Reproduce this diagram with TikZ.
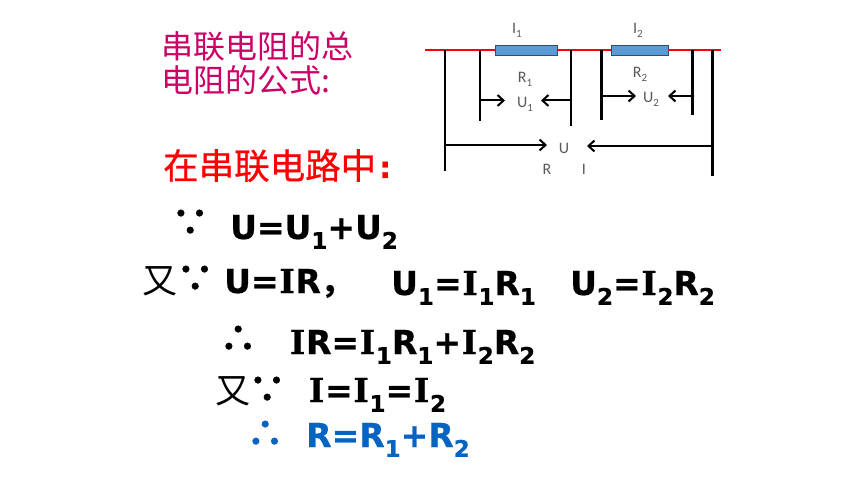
\documentclass[tikz,border=0pt]{standalone}
\usepackage{fontspec}
\setmainfont[BoldFeatures={FakeBold=0.6}]{DejaVu Sans}
\newfontfamily\cjk{Noto Sans CJK SC}
\newfontfamily\cjkmed[FakeBold=0.7]{Noto Sans CJK SC}
\newfontfamily\cjkdots[FakeBold=1.2]{Noto Sans CJK SC Bold}
\newfontfamily\serifI[FakeBold=0.6]{DejaVu Serif}
\newfontfamily\lab{Carlito}
\usetikzlibrary{arrows.meta}
\definecolor{resblue}{HTML}{5B9BD5}
\definecolor{resedge}{HTML}{2F4F6F}
\definecolor{titlepink}{HTML}{CC0066}
\definecolor{resultblue}{HTML}{0563C1}
\definecolor{labgray}{HTML}{595959}
\newcommand{\sbs}[1]{\raisebox{-0.3em}{\fontsize{23}{23}\selectfont #1}}
\newcommand{\lsb}[1]{\raisebox{-0.25em}{\fontsize{11}{11}\selectfont #1}}
\newcommand{\II}{{\serifI\kern0.7pt I\kern0.7pt}}
\tikzset{
    resistor/.style={draw=resedge, fill=resblue, line width=0.8pt, inner sep=0pt, minimum height=10pt},
    wire/.style={line width=1.8pt, red},
    probe/.style={line width=2.2pt},
    probethick/.style={line width=3pt},
    volt/.style={line width=2pt, -{Straight Barb[length=6pt,width=11pt]}},
    lbl/.style={font=\lab\fontsize{16}{16}\selectfont, text=labgray, inner sep=0pt},
    title/.style={font=\cjk\fontsize{32}{36}\selectfont, text=titlepink, anchor=base west, inner sep=0pt},
    eqn/.style={font=\bfseries\fontsize{33}{33}\selectfont, anchor=base west, inner sep=0pt},
    dots/.style={font=\cjkdots\fontsize{38}{38}\selectfont, anchor=base west, inner sep=0pt},
    cjkeqn/.style={font=\cjk\fontsize{35}{35}\selectfont, anchor=base west, inner sep=0pt}
}
\begin{document}
\begin{tikzpicture}[x=1pt, y=-1pt]
    \useasboundingbox (0,0) rectangle (860,484);

    % Title text
    \node[title] (titleA) at (161,59) {串联电阻的总};
    \node[title] (titleB) at (161,93) {电阻的公式:};
    \node[title, font=\cjkmed\fontsize{35.5}{36}\selectfont, text=red] (inseries) at (163,179) {在串联电路中};
    \node[title, font=\bfseries\fontsize{30}{30}\selectfont, text=red] (colon) at (379,178) {:};

    % Equations
    \node[dots] (becA) at (171,236) {∵};
    \node[eqn] (eqA) at (230,239) {U=U\sbs{1}+U\sbs{2}};
    \node[cjkeqn] (youA) at (142,293) {又};
    \node[dots] (becB) at (176,292) {∵};
    \node[eqn] (eqB) at (224,293) {U=\II R{\cjk ，}};
    \node[eqn] (eqC) at (391,295) {U\sbs{1}=\II\sbs{1}R\sbs{1}};
    \node[eqn] (eqD) at (570,295) {U\sbs{2}=\II\sbs{2}R\sbs{2}};
    \node[dots] (soA) at (219,352) {∴};
    \node[eqn] (eqE) at (289,354) {\II R=\II\sbs{1}R\sbs{1}+\II\sbs{2}R\sbs{2}};
    \node[cjkeqn] (youB) at (215,403) {又};
    \node[dots] (becC) at (248,403) {∵};
    \node[eqn] (eqF) at (308,402) {\II=\II\sbs{1}=\II\sbs{2}};
    \node[dots, text=resultblue] (soB) at (246,447) {∴};
    \node[eqn, text=resultblue] (eqG) at (306,447) {R=R\sbs{1}+R\sbs{2}};

    % Resistors on the line
    \node[resistor, minimum width=62pt] (resA) at (526,50) {};
    \node[resistor, minimum width=57pt] (resB) at (639.5,50) {};
    \coordinate (lineL) at (425,50);
    \coordinate (lineR) at (721,50);
    \draw[wire] (lineL) -- (resA.west);
    \draw[wire] (resA.east) -- (resB.west);
    \draw[wire] (resB.east) -- (lineR);

    % Voltmeter leads, from the line down
    \foreach \name/\x/\yend/\sty in {uL/445/171/probe, aL/480/121/probe, aR/571/126/probe,
                                     bL/601/120/probethick, bR/692/115/probethick, uR/712/176/probethick} {
        \coordinate (\name top) at (\x,50);
        \coordinate (\name end) at (\x,\yend);
        \draw[\sty] (\name top) -- (\name end);
    }

    % Labels
    \node[lbl] (lblIa) at (517,30) {I\lsb{1}};
    \node[lbl] (lblIb) at (638,30) {I\lsb{2}};
    \node[lbl] (lblRa) at (525,79) {R\lsb{1}};
    \node[lbl] (lblUa) at (525,104) {U\lsb{1}};
    \node[lbl] (lblRb) at (640,74) {R\lsb{2}};
    \node[lbl] (lblUb) at (651,99) {U\lsb{2}};
    \node[lbl] (lblU) at (564,148) {U};
    \node[lbl] (lblR) at (547,169) {R};
    \node[lbl] (lblI) at (584,169) {I};

    % Voltage arrows
    \coordinate (arrAl) at (480,100.5);
    \coordinate (tipAl) at (505,100.5);
    \coordinate (arrAr) at (571,100.5);
    \coordinate (tipAr) at (541,100.5);
    \coordinate (arrBl) at (601,96);
    \coordinate (tipBl) at (636,96);
    \coordinate (arrBr) at (692,96);
    \coordinate (tipBr) at (668,96);
    \coordinate (arrUl) at (445,145);
    \coordinate (tipUl) at (547,145);
    \coordinate (arrUr) at (712,146);
    \coordinate (tipUr) at (587,146);
    \draw[volt] (arrAl) -- (tipAl);
    \draw[volt] (arrAr) -- (tipAr);
    \draw[volt] (arrBl) -- (tipBl);
    \draw[volt] (arrBr) -- (tipBr);
    \draw[volt] (arrUl) -- (tipUl);
    \draw[volt] (arrUr) -- (tipUr);
\end{tikzpicture}
\end{document}
